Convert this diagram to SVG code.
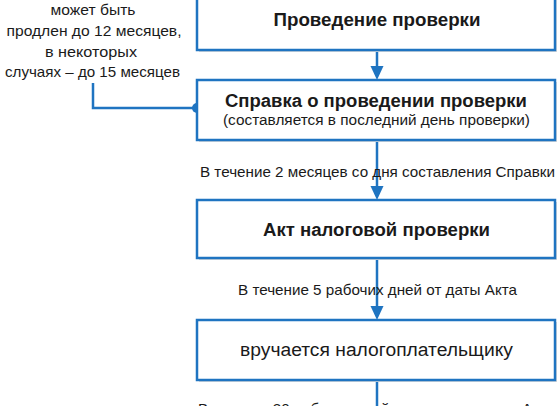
<svg xmlns="http://www.w3.org/2000/svg" width="560" height="406" viewBox="0 0 560 406">
<defs>
<style>
.box{fill:#ffffff;stroke:#1f74c1;stroke-width:2.5}
.sh{fill:#dadada}
.ln{stroke:#1f74c1;stroke-width:2.5;fill:none}
.ah{fill:#1f74c1}
.t{font-family:"Liberation Sans",Arial,sans-serif;fill:#1a1a1a;text-anchor:middle}
.b{font-weight:bold;font-size:18px}
.r{font-size:18px}
.s{font-size:14.5px}
.l{font-size:15px}
.m{font-size:14px}
</style>
</defs>
<rect width="560" height="406" fill="#ffffff"/>
<g id="connectors">
<line class="ln" x1="377" y1="50" x2="377" y2="68"/>
<polygon class="ah" points="370.5,66 383.5,66 377,80"/>
<line class="ln" x1="377" y1="140" x2="377" y2="188"/>
<polygon class="ah" points="370.5,186 383.5,186 377,200"/>
<line class="ln" x1="377" y1="258" x2="377" y2="308"/>
<polygon class="ah" points="370.5,306 383.5,306 377,320"/>
<line class="ln" x1="377" y1="380" x2="377" y2="406"/>
<polyline class="ln" points="93,83 93,108 197,108"/>
<circle class="ah" cx="197" cy="108" r="5"/>
</g>
<g id="note">
<text class="t l" x="93" y="15" textLength="85" lengthAdjust="spacingAndGlyphs">может быть</text>
<text class="t l" x="94" y="36" textLength="175" lengthAdjust="spacingAndGlyphs">продлен до 12 месяцев,</text>
<text class="t l" x="91" y="56.5" textLength="92" lengthAdjust="spacingAndGlyphs">в некоторых</text>
<text class="t l" x="92.5" y="77" textLength="175" lengthAdjust="spacingAndGlyphs">случаях – до 15 месяцев</text>
</g>
<g id="node1">
<rect class="sh" x="199" y="-8" width="358" height="60"/>
<rect class="box" x="197" y="-10" width="358" height="60"/>
<text class="t b" x="377" y="26" textLength="207" lengthAdjust="spacingAndGlyphs">Проведение проверки</text>
</g>
<g id="node2">
<rect class="sh" x="199" y="82" width="358" height="60"/>
<rect class="box" x="197" y="80" width="358" height="60"/>
<text class="t b" x="376" y="107" textLength="302" lengthAdjust="spacingAndGlyphs">Справка о проведении проверки</text>
<text class="t m" x="376.5" y="124.5" textLength="307" lengthAdjust="spacingAndGlyphs">(составляется в последний день проверки)</text>
</g>
<g id="label1">
<text class="t s" x="377.5" y="177" textLength="355" lengthAdjust="spacingAndGlyphs">В течение 2 месяцев со дня составления Справки</text>
</g>
<g id="node3">
<rect class="sh" x="199" y="202" width="358" height="58"/>
<rect class="box" x="197" y="200" width="358" height="58"/>
<text class="t b" x="376.5" y="236" textLength="227" lengthAdjust="spacingAndGlyphs">Акт налоговой проверки</text>
</g>
<g id="label2">
<text class="t s" x="377.5" y="295" textLength="279" lengthAdjust="spacingAndGlyphs">В течение 5 рабочих дней от даты Акта</text>
</g>
<g id="node4">
<rect class="sh" x="199" y="322" width="358" height="60"/>
<rect class="box" x="197" y="320" width="358" height="60"/>
<text class="t r" x="376.5" y="356" textLength="273" lengthAdjust="spacingAndGlyphs">вручается налогоплательщику</text>
</g>
<g id="label3">
<text class="t s" x="376" y="414" textLength="356" lengthAdjust="spacingAndGlyphs">В течение 30 рабочих дней со дня получения Акта</text>
</g>
</svg>
